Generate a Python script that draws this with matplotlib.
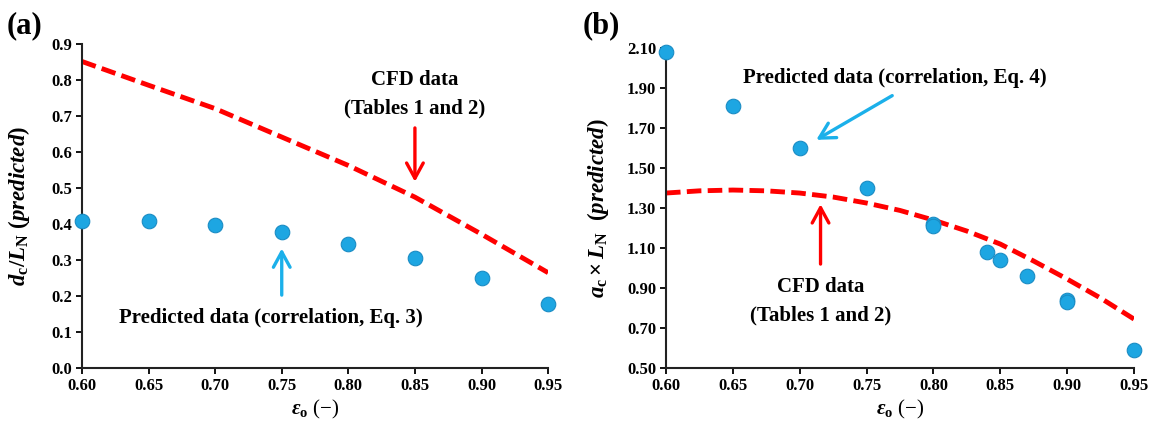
import numpy as np
import matplotlib.pyplot as plt

plt.rcParams['font.family'] = 'Liberation Serif'
plt.rcParams['font.weight'] = 'bold'
plt.rcParams['mathtext.fontset'] = 'custom'
plt.rcParams['mathtext.rm'] = 'Liberation Serif:bold'
plt.rcParams['mathtext.it'] = 'Liberation Serif:bold:italic'
plt.rcParams['mathtext.bf'] = 'Liberation Serif:bold'

# panel (a): d_c / L_N
eps_a = [0.60, 0.65, 0.70, 0.75, 0.80, 0.85, 0.90, 0.95]
dc_pred = [0.408, 0.410, 0.398, 0.377, 0.346, 0.305, 0.251, 0.179]
dc_cfd = [0.852, 0.786, 0.721, 0.642, 0.563, 0.475, 0.372, 0.265]

# panel (b): a_c x L_N
eps_b = [0.60, 0.65, 0.70, 0.75, 0.80, 0.80, 0.84, 0.85, 0.87, 0.90, 0.90, 0.95]
ac_pred = [2.08, 1.81, 1.60, 1.40, 1.22, 1.21, 1.08, 1.04, 0.96, 0.84, 0.83, 0.59]
eps_b_cfd = [0.60, 0.625, 0.65, 0.675, 0.70, 0.725, 0.75, 0.775, 0.80,
             0.825, 0.85, 0.875, 0.90, 0.925, 0.95]
ac_cfd = [1.375, 1.386, 1.39, 1.386, 1.375, 1.355, 1.325, 1.288, 1.24,
          1.185, 1.12, 1.035, 0.945, 0.85, 0.745]

xticks = [0.60, 0.65, 0.70, 0.75, 0.80, 0.85, 0.90, 0.95]
yticks_a = [0.0, 0.1, 0.2, 0.3, 0.4, 0.5, 0.6, 0.7, 0.8, 0.9]
yticks_b = [0.50, 0.70, 0.90, 1.10, 1.30, 1.50, 1.70, 1.90, 2.10]

red = '#FF0000'
blue_dot = '#1DA6E2'
blue_edge = '#1A8CC4'
blue_arrow = '#1BB0EA'

fig = plt.figure(figsize=(11.51, 4.25), dpi=100)
ax1 = fig.add_axes([0.0712, 0.134, 0.405, 0.762])
ax2 = fig.add_axes([0.5786, 0.134, 0.4066, 0.753])

def style(ax, yticks, fmt):
    for s in ['top', 'right']:
        ax.spines[s].set_visible(False)
    for s in ['left', 'bottom']:
        ax.spines[s].set_linewidth(1.5)
        ax.spines[s].set_color('#222222')
    ax.set_xlim(0.60, 0.95)
    ax.set_xticks(xticks)
    ax.set_xticklabels(['%.2f' % v for v in xticks])
    ax.set_ylim(yticks[0], yticks[-1])
    ax.set_yticks(yticks)
    ax.set_yticklabels([fmt % v for v in yticks])
    ax.tick_params(direction='out', length=4, width=1.3, labelsize=12, pad=3)
    for lab in ax.get_xticklabels() + ax.get_yticklabels():
        lab.set_fontweight('bold')
    ax.set_xlabel(r'$\varepsilon_{\mathrm{o}}$ (−)', fontsize=15, fontweight='normal', labelpad=3)

arrow_style = '->,head_length=0.55,head_width=0.3'

# ---- (a)
style(ax1, yticks_a, '%.1f')
ax1.plot(eps_a, dc_cfd, color=red, lw=3.5, dashes=(3.0, 1.3), zorder=2)
ax1.scatter(eps_a, dc_pred, s=110, color=blue_dot, edgecolors=blue_edge, linewidths=0.8, zorder=3, clip_on=False)
ax1.set_ylabel(r'$d_{\mathrm{c}}/L_{\mathrm{N}}\ (predicted)$', fontsize=16.5)
ax1.yaxis.set_label_coords(-0.108, 0.5)

ax1.text(0.85, 0.80, 'CFD data', ha='center', va='center', fontsize=15, fontweight='bold')
ax1.text(0.85, 0.72, '(Tables 1 and 2)', ha='center', va='center', fontsize=15, fontweight='bold')
ax1.annotate('', xy=(0.85, 0.51), xytext=(0.85, 0.675),
             arrowprops=dict(arrowstyle=arrow_style, color=red, lw=2.4, mutation_scale=20))
ax1.text(0.742, 0.14, 'Predicted data (correlation, Eq. 3)', ha='center', va='center', fontsize=15, fontweight='bold')
ax1.annotate('', xy=(0.75, 0.34), xytext=(0.75, 0.195),
             arrowprops=dict(arrowstyle=arrow_style, color=blue_arrow, lw=2.4, mutation_scale=20))

# ---- (b)
style(ax2, yticks_b, '%.2f')
ax2.plot(eps_b_cfd, ac_cfd, color=red, lw=3.5, dashes=(3.0, 1.3), zorder=2)
ax2.scatter(eps_b, ac_pred, s=110, color=blue_dot, edgecolors=blue_edge, linewidths=0.8, zorder=3, clip_on=False)
ax2.set_ylabel(r'$a_{\mathrm{c}}\times L_{\mathrm{N}}\ \ (predicted)$', fontsize=16.5)
ax2.yaxis.set_label_coords(-0.117, 0.5)

ax2.text(0.771, 1.95, 'Predicted data (correlation, Eq. 4)', ha='center', va='center', fontsize=15, fontweight='bold')
ax2.annotate('', xy=(0.7106, 1.634), xytext=(0.771, 1.869),
             arrowprops=dict(arrowstyle=arrow_style, color=blue_arrow, lw=2.4, mutation_scale=20))
ax2.text(0.716, 0.905, 'CFD data', ha='center', va='center', fontsize=15, fontweight='bold')
ax2.text(0.716, 0.763, '(Tables 1 and 2)', ha='center', va='center', fontsize=15, fontweight='bold')
ax2.annotate('', xy=(0.7156, 1.333), xytext=(0.7156, 1.006),
             arrowprops=dict(arrowstyle=arrow_style, color=red, lw=2.4, mutation_scale=20))

fig.text(0.006, 0.94, '(a)', fontsize=22, fontweight='bold', va='center')
fig.text(0.506, 0.94, '(b)', fontsize=22, fontweight='bold', va='center')

fig.savefig('out.png', dpi=100)
